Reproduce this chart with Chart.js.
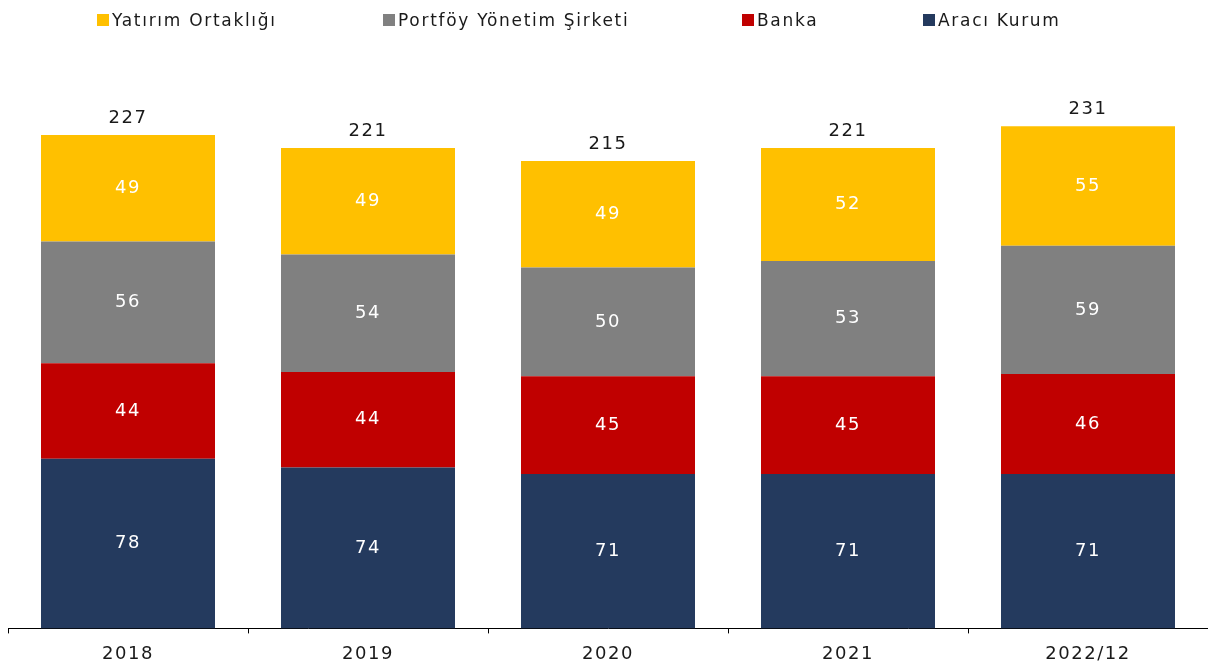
<!DOCTYPE html>
<html>
<head>
<meta charset="utf-8">
<script src="https://cdn.jsdelivr.net/npm/chart.js@4/dist/chart.umd.min.js"></script>
<style>
  html,body{margin:0;padding:0;background:#fff;overflow:hidden;}
  #wrap{position:relative;width:1208px;height:663px;overflow:hidden;}
  #c{position:absolute;left:0;top:0;}
  #legend{position:absolute;top:0;left:0;width:1208px;height:40px;font-family:"DejaVu Sans",Verdana,sans-serif;font-size:17px;letter-spacing:1.7px;color:#1a1a1a;}
  .li{position:absolute;top:10px;white-space:nowrap;line-height:20px;}
  .box{display:inline-block;width:12px;height:12px;margin-right:3px;vertical-align:0px;}
</style>
</head>
<body>
<div id="wrap">
  <canvas id="c" width="1208" height="675"></canvas>
  <div id="legend"></div>
</div>
<script>
const categories = ["2018", "2019", "2020", "2021", "2022/12"];
const araciKurum = [78, 74, 71, 71, 71];
const banka = [44, 44, 45, 45, 46];
const portfoy = [56, 54, 50, 53, 59];
const yatirim = [49, 49, 49, 52, 55];
const seriesNames = ["Aracı Kurum", "Banka", "Portföy Yönetim Şirketi", "Yatırım Ortaklığı"];
const seriesColors = ["#243A5E", "#C00000", "#808080", "#FFC000"];

const legendLeft = [97, 383, 742, 923];
const legendOrder = [3, 2, 1, 0];
const lg = document.getElementById('legend');
legendOrder.forEach((si, i) => {
  const d = document.createElement('div');
  d.className = 'li';
  d.style.left = legendLeft[i] + 'px';
  d.innerHTML = '<span class="box" style="background:' + seriesColors[si] + '"></span>' + seriesNames[si];
  lg.appendChild(d);
});

const FONT = '"DejaVu Sans", Verdana, sans-serif';

const spacingPlugin = {
  id: 'spacing',
  beforeDraw(chart) { chart.ctx.letterSpacing = '1.5px'; }
};

const labelsPlugin = {
  id: 'labels',
  afterDatasetsDraw(chart) {
    const ctx = chart.ctx;
    ctx.save();
    ctx.letterSpacing = '1.5px';
    ctx.font = '18px ' + FONT;
    ctx.textAlign = 'center';
    ctx.textBaseline = 'middle';
    chart.data.datasets.forEach((ds, di) => {
      const meta = chart.getDatasetMeta(di);
      meta.data.forEach((bar, i) => {
        ctx.fillStyle = '#ffffff';
        ctx.fillText(String(ds.data[i]), bar.x, (bar.y + bar.base) / 2);
      });
    });
    const last = chart.getDatasetMeta(chart.data.datasets.length - 1);
    last.data.forEach((bar, i) => {
      let total = 0;
      chart.data.datasets.forEach(ds => total += ds.data[i]);
      ctx.fillStyle = '#1a1a1a';
      ctx.fillText(String(total), bar.x, bar.y - 17);
    });
    ctx.restore();
  }
};

const datasets = [araciKurum, banka, portfoy, yatirim].map((d, i) => ({
  label: seriesNames[i],
  data: d,
  backgroundColor: seriesColors[i],
  borderWidth: 0,
  barPercentage: 0.725,
  categoryPercentage: 1.0
}));

new Chart(document.getElementById('c'), {
  type: 'bar',
  data: { labels: categories, datasets },
  options: {
    responsive: false,
    animation: false,
    layout: { padding: { left: 8, right: 0, top: 85, bottom: 0 } },
    plugins: { legend: { display: false }, tooltip: { enabled: false } },
    scales: {
      x: {
        stacked: true,
        border: { display: true, color: '#000', width: 1 },
        grid: { display: true, offset: true, drawOnChartArea: false, drawTicks: true, tickLength: 5, color: '#000' },
        ticks: { color: '#1a1a1a', font: { family: FONT, size: 18 }, padding: 10 }
      },
      y: {
        stacked: true,
        display: false,
        min: 0,
        max: 250
      }
    }
  },
  plugins: [spacingPlugin, labelsPlugin]
});
</script>
</body>
</html>
